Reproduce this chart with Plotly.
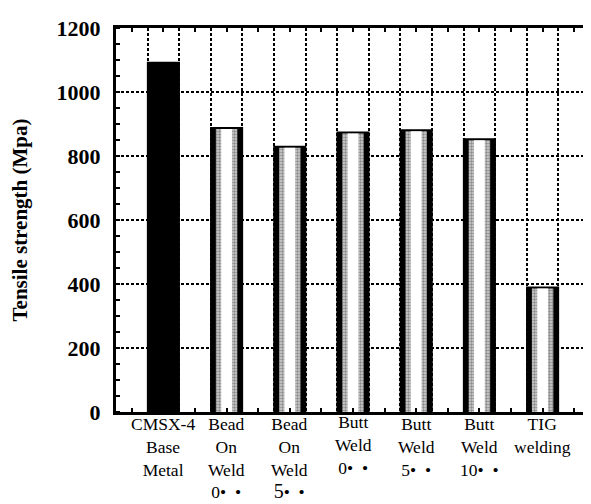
import plotly.graph_objects as go

categories = ["CMSX-4 Base Metal", "Bead On Weld 0", "Bead On Weld 5",
              "Butt Weld 0", "Butt Weld 5", "Butt Weld 10", "TIG welding"]
label_lines = [
    ["CMSX-4", "Base", "Metal"],
    ["Bead", "On", "Weld", "0• \u00a0•"],
    ["Bead", "On", "Weld", "<span style='font-size:20px'>5</span>• \u00a0•"],
    ["Butt", "Weld", "0• \u00a0•"],
    ["Butt", "Weld", "5• \u00a0•"],
    ["Butt", "Weld", "10• \u00a0•"],
    ["TIG", "welding"],
]
tensile_strength = [1088, 884, 826, 870, 877, 849, 386]
y_ticks = [0, 200, 400, 600, 800, 1000, 1200]

pos = list(range(len(categories)))
SERIF = "Liberation Serif"

fig = go.Figure()

outer_colors = ["black"] * len(pos)
mid_colors = ["black"] + ["#d0d0d0"] * (len(pos) - 1)
inner_colors = ["black"] + ["white"] * (len(pos) - 1)
mid_shapes = [""] + ["."] * (len(pos) - 1)

fig.add_trace(go.Bar(x=pos, y=tensile_strength, width=0.46,
                     marker=dict(color=outer_colors, line=dict(color="black", width=4)),
                     hoverinfo="skip", showlegend=False))
fig.add_trace(go.Bar(x=pos, y=tensile_strength, width=0.34,
                     marker=dict(color=mid_colors, line=dict(width=0),
                                 pattern=dict(shape=mid_shapes, fgcolor="#555555",
                                              bgcolor="white", size=3, solidity=0.5)),
                     hoverinfo="skip", showlegend=False))
fig.add_trace(go.Bar(x=pos, y=tensile_strength, width=0.17,
                     marker=dict(color=inner_colors, line=dict(width=0)),
                     hoverinfo="skip", showlegend=False))

n = len(pos)
tick_positions = [i * 0.5 - 0.5 for i in range(2 * n + 1)]
grid_positions = [i * 0.5 - 0.25 for i in range(2 * n)]

fig.update_layout(
    width=591, height=504,
    margin=dict(l=108, r=6, t=20, b=100),
    paper_bgcolor="white", plot_bgcolor="white",
    barmode="overlay",
    font=dict(family=SERIF, color="black"),
    xaxis=dict(range=[-0.75, n - 0.25], tickmode="array", tickvals=tick_positions,
               showticklabels=False, ticks="inside", ticklen=4, tickwidth=2,
               tickcolor="black", showgrid=False, zeroline=False,
               showline=True, linecolor="black", linewidth=3, mirror="ticks",
               minor=dict(tickmode="array", tickvals=grid_positions, ticks="",
                          showgrid=True, gridcolor="black", gridwidth=2,
                          griddash="3px,2px")),
    yaxis=dict(range=[0, 1200], tickmode="array", tickvals=y_ticks,
               ticks="", showgrid=True, gridcolor="black", gridwidth=2,
               griddash="3px,2px", zeroline=False,
               showline=True, linecolor="black", linewidth=3, mirror="ticks",
               tickfont=dict(family=SERIF, size=22, weight="bold"),
               ticklabelstandoff=8,
               title=dict(text="Tensile strength (Mpa)", standoff=24,
                          font=dict(family=SERIF, size=21, weight="bold")),
               minor=dict(dtick=50, ticks="inside", ticklen=4, tickwidth=2,
                          tickcolor="black", showgrid=False)),
)

label_yshift = [0, 0, 0, 2, 0, 0, 0]
for p, lines, ys in zip(pos, label_lines, label_yshift):
    fig.add_annotation(x=p, y=0, xref="x", yref="paper", yanchor="top",
                       text="<br>".join(lines), showarrow=False, yshift=ys,
                       font=dict(family=SERIF, size=17.5, color="black"))

fig.write_html("out.html")
